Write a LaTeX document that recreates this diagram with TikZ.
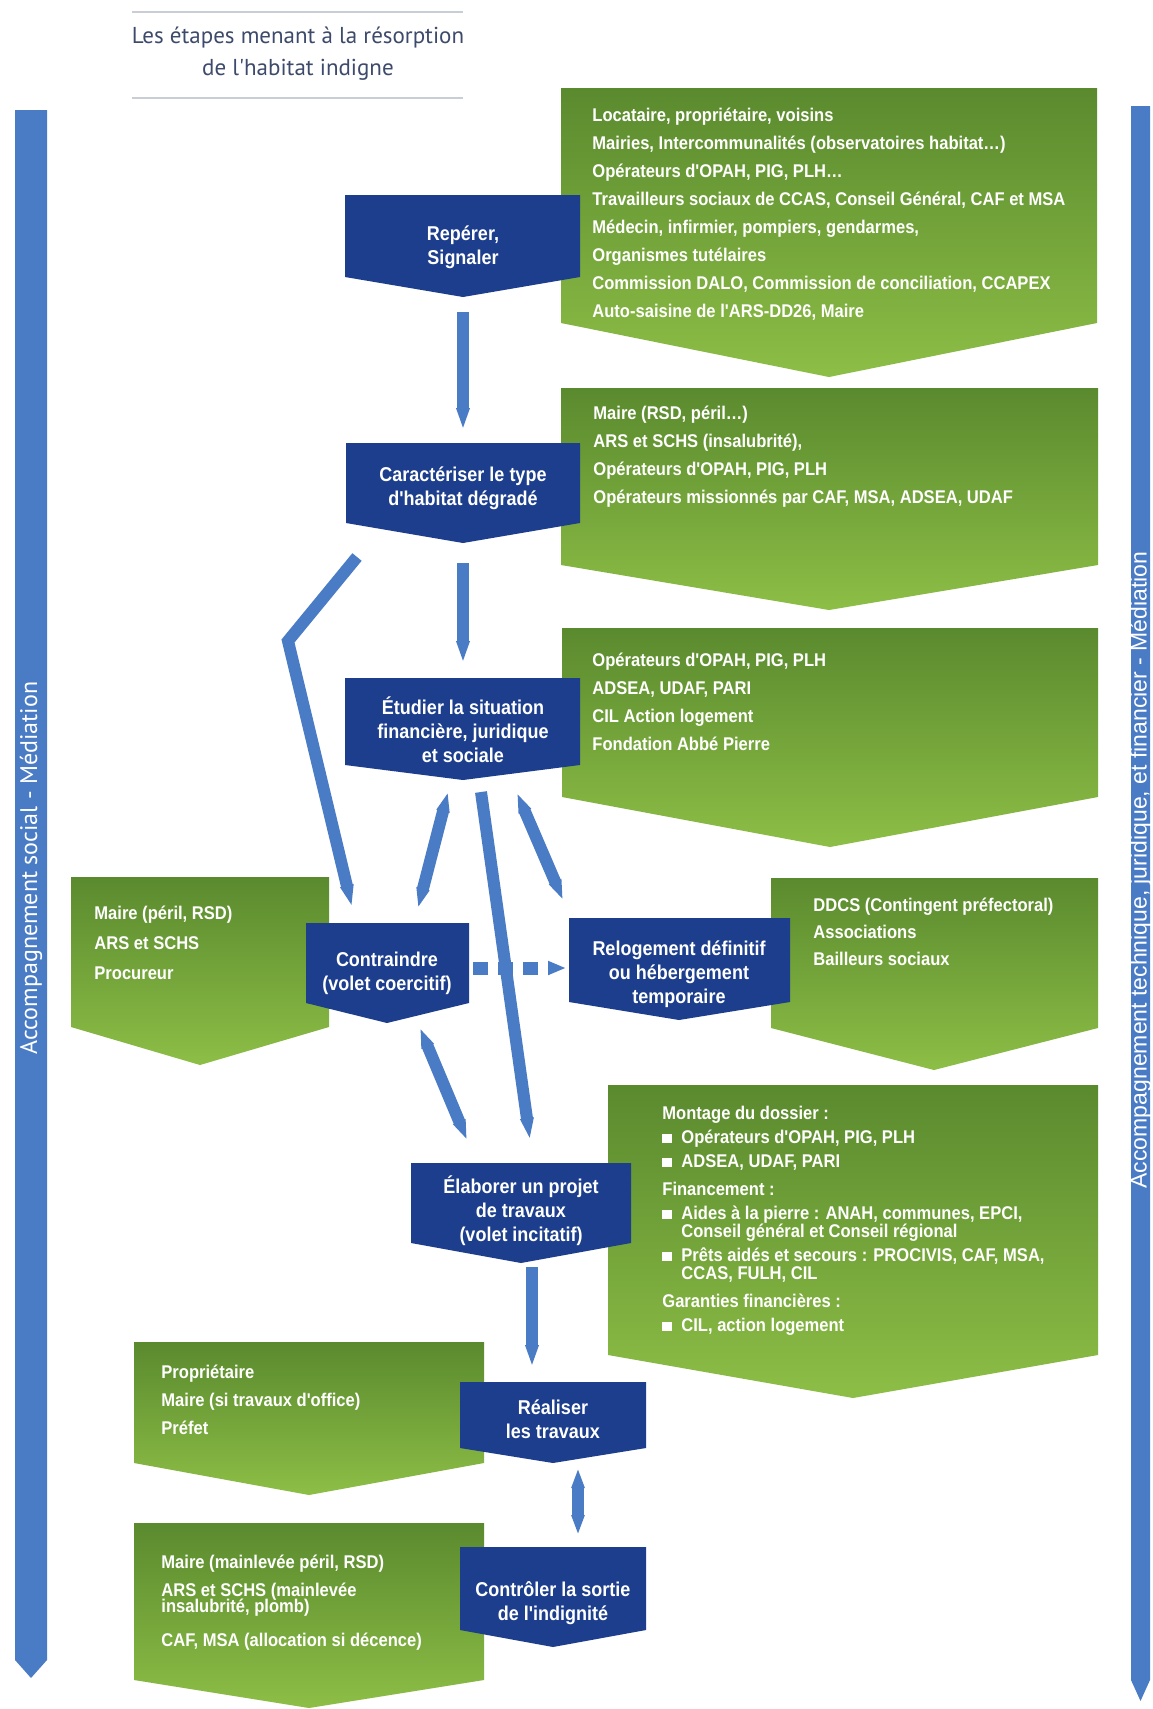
\documentclass[tikz,border=0pt]{standalone}
\usepackage{fontspec}
\setmainfont{Liberation Sans}
\newfontfamily\condfont[FakeStretch=0.9]{Liberation Sans}
\newfontfamily\titlefont{PT Sans}
\usetikzlibrary{arrows.meta}
\definecolor{navy}{HTML}{1C3E8C}
\definecolor{linkblue}{HTML}{4A7CC6}
\definecolor{greentop}{HTML}{5A8A2E}
\definecolor{greenbot}{HTML}{8DBE46}
\definecolor{titleink}{HTML}{3D4A6B}
\definecolor{titlerule}{HTML}{C9CED6}
\newcommand{\bul}{\makebox[9.5pt][l]{\rule[0.4pt]{4.6pt}{4.6pt}}}
\tikzset{
  stage/.style={fill=navy},
  actors/.style={top color=greentop,bottom color=greenbot},
  band/.style={fill=linkblue},
  stagetxt/.style={inner sep=0pt,align=center,text=white,font=\condfont\bfseries\fontsize{10}{12}\selectfont},
  actortxt/.style={anchor=north west,inner sep=0pt,align=left,text=white,font=\condfont\bfseries\fontsize{9.2}{14}\selectfont},
  link/.style={draw=linkblue,line width=6pt,-{Triangle[length=11pt,width=6pt]}},
  linkb/.style={draw=linkblue,line width=6pt,{Triangle[length=10pt,width=6pt]}-{Triangle[length=10pt,width=6pt]}},
  dashlink/.style={draw=linkblue,line width=6.5pt,dash pattern=on 7.5pt off 5pt,-{Triangle[length=9pt,width=6.5pt]}},
}
\begin{document}
\begin{tikzpicture}[x=0.5pt,y=-0.5pt]
\useasboundingbox (0,0) rectangle (1152,1709);
\fill[white] (0,0) rectangle (1152,1709);
\draw[titlerule,line width=0.8pt] (132,12) -- (463,12);
\draw[titlerule,line width=0.8pt] (132,98) -- (463,98);
\node[align=center,text=titleink,font=\titlefont\fontsize{11.5}{16}\selectfont] (title) at (298,54) {Les étapes menant à la résorption\\de l'habitat indigne};
\fill[band] (15,110) -- (47,110) -- (47,1660) -- (31,1678) -- (15,1660) -- cycle;
\node[rotate=90,text=white,font=\titlefont\fontsize{12}{12}\selectfont] (social) at (31,868) {Accompagnement social - Médiation};
\fill[band] (1131,106) -- (1150,106) -- (1150,1680) -- (1140.5,1701) -- (1131,1680) -- cycle;
\node[rotate=90,text=white,font=\fontsize{11.5}{11.5}\selectfont] (technique) at (1140.5,870) {Accompagnement technique, juridique, et financier - Médiation};
\shade[actors] (561,88) -- (1097,88) -- (1097,323) -- (829,377) -- (561,323) -- cycle;
\shade[actors] (561,388) -- (1098,388) -- (1098,565) -- (829,610) -- (561,565) -- cycle;
\shade[actors] (562,628) -- (1098,628) -- (1098,797) -- (830,847) -- (562,797) -- cycle;
\shade[actors] (71,877) -- (329,877) -- (329,1027) -- (200,1065) -- (71,1027) -- cycle;
\shade[actors] (771,878) -- (1098,878) -- (1098,1028) -- (934,1070) -- (771,1028) -- cycle;
\shade[actors] (608,1085) -- (1098,1085) -- (1098,1355) -- (853,1398) -- (608,1355) -- cycle;
\shade[actors] (134,1342) -- (484,1342) -- (484,1463) -- (309,1495) -- (134,1463) -- cycle;
\shade[actors] (134,1523) -- (484,1523) -- (484,1680) -- (309,1708) -- (134,1680) -- cycle;
\node[actortxt] (who) at (592,108) {Locataire, propriétaire, voisins\\Mairies, Intercommunalités (observatoires habitat…)\\Opérateurs d'OPAH, PIG, PLH…\\Travailleurs sociaux de CCAS, Conseil Général, CAF et MSA\\Médecin, infirmier, pompiers, gendarmes,\\Organismes tutélaires\\Commission DALO, Commission de conciliation, CCAPEX\\Auto-saisine de l'ARS-DD26, Maire};
\node[actortxt] (typage) at (593,406) {Maire (RSD, péril…)\\ARS et SCHS (insalubrité),\\Opérateurs d'OPAH, PIG, PLH\\Opérateurs missionnés par CAF, MSA, ADSEA, UDAF};
\node[actortxt] (etude) at (592,653) {Opérateurs d'OPAH, PIG, PLH\\ADSEA, UDAF, PARI\\CIL Action logement\\Fondation Abbé Pierre};
\node[actortxt,font=\condfont\bfseries\fontsize{9.2}{15}\selectfont] (coerc) at (94,906) {Maire (péril, RSD)\\ARS et SCHS\\Procureur};
\node[actortxt,font=\condfont\bfseries\fontsize{9.2}{13.5}\selectfont] (relog) at (813,898) {DDCS (Contingent préfectoral)\\Associations\\Bailleurs sociaux};
\node[actortxt,font=\condfont\bfseries\fontsize{9.2}{12}\selectfont] (montage) at (662,1106) {Montage du dossier :\\\bul Opérateurs d'OPAH, PIG, PLH\\\bul ADSEA, UDAF, PARI\\[2pt]Financement :\\\bul Aides à la pierre : ANAH, communes, EPCI,\\[-3pt]\hspace*{9.5pt}Conseil général et Conseil régional\\\bul Prêts aidés et secours : PROCIVIS, CAF, MSA,\\[-3pt]\hspace*{9.5pt}CCAS, FULH, CIL\\[2pt]Garanties financières :\\\bul CIL, action logement};
\node[actortxt] (travaux) at (161,1365) {Propriétaire\\Maire (si travaux d'office)\\Préfet};
\node[actortxt] (sortie) at (161,1555) {Maire (mainlevée péril, RSD)\\ARS et SCHS (mainlevée\\[-6pt]insalubrité, plomb)\\[3pt]CAF, MSA (allocation si décence)};
\fill[stage] (345,195) -- (580,195) -- (580,277) -- (463,297) -- (345,277) -- cycle;
\fill[stage] (346,443) -- (580,443) -- (580,523) -- (463,543) -- (346,523) -- cycle;
\fill[stage] (345,678) -- (580,678) -- (580,765) -- (463,780) -- (345,765) -- cycle;
\fill[stage] (306,923) -- (469,923) -- (469,1003) -- (387,1023) -- (306,1003) -- cycle;
\fill[stage] (569,918) -- (790,918) -- (790,1002) -- (679,1020) -- (569,1002) -- cycle;
\fill[stage] (411,1163) -- (631,1163) -- (631,1243) -- (521,1263) -- (411,1243) -- cycle;
\fill[stage] (460,1382) -- (646,1382) -- (646,1448) -- (553,1463) -- (460,1448) -- cycle;
\fill[stage] (460,1547) -- (646,1547) -- (646,1630) -- (553,1647) -- (460,1630) -- cycle;
\node[stagetxt] (reperer) at (463,247) {Repérer,\\Signaler};
\node[stagetxt] (caract) at (463,488) {Caractériser le type\\d'habitat dégradé};
\node[stagetxt] (etudier) at (463,730) {Étudier la situation\\financière, juridique\\et sociale};
\node[stagetxt] (contraindre) at (387,973) {Contraindre\\(volet coercitif)};
\node[stagetxt] (reloger) at (679,974) {Relogement définitif\\ou hébergement\\temporaire};
\node[stagetxt] (elaborer) at (521,1211) {Élaborer un projet\\de travaux\\(volet incitatif)};
\node[stagetxt] (realiser) at (553,1419) {Réaliser\\les travaux};
\node[stagetxt] (controler) at (553,1603) {Contrôler la sortie\\de l'indignité};
\coordinate (l1a) at (463,312);
\coordinate (l1b) at (463,430);
\coordinate (l2a) at (463,563);
\coordinate (l2b) at (463,663);
\coordinate (l3a) at (357,557);
\coordinate (l3k) at (288,641);
\coordinate (l3b) at (352,907);
\coordinate (l4a) at (448,792);
\coordinate (l4b) at (418,908);
\coordinate (l5a) at (481,792);
\coordinate (l5b) at (530,1140);
\coordinate (l6a) at (517,793);
\coordinate (l6b) at (563,900);
\coordinate (l7a) at (473,968);
\coordinate (l7b) at (566,968);
\coordinate (l8a) at (420,1028);
\coordinate (l8b) at (467,1140);
\coordinate (l9a) at (532,1267);
\coordinate (l9b) at (532,1367);
\coordinate (l10a) at (578,1468);
\coordinate (l10b) at (578,1535);
\draw[link] (l1a) -- (l1b);
\draw[link] (l2a) -- (l2b);
\draw[link] (l3a) -- (l3k) -- (l3b);
\draw[linkb] (l4a) -- (l4b);
\draw[dashlink] (l7a) -- (l7b);
\draw[link] (l5a) -- (l5b);
\draw[linkb] (l6a) -- (l6b);
\draw[linkb] (l8a) -- (l8b);
\draw[link] (l9a) -- (l9b);
\draw[linkb] (l10a) -- (l10b);
\end{tikzpicture}
\end{document}
